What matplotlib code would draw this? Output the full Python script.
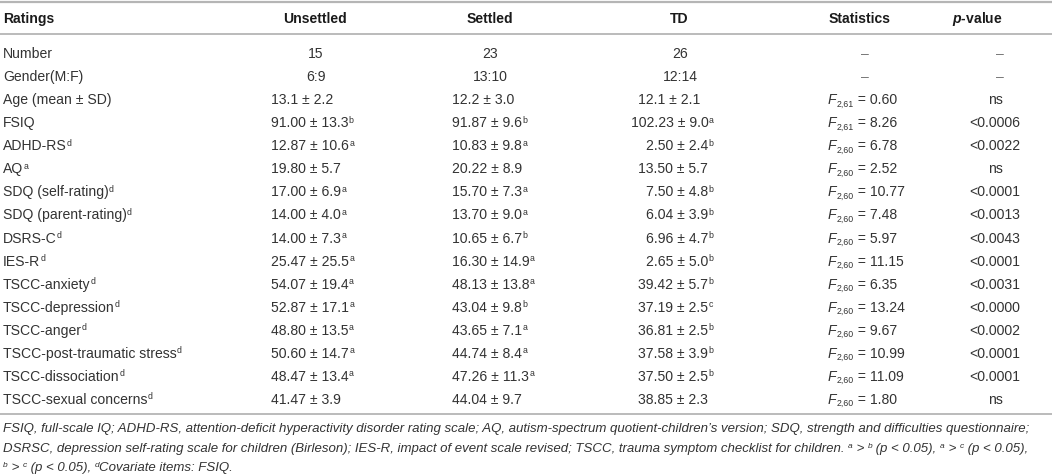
import matplotlib
matplotlib.use("Agg")
import matplotlib.pyplot as plt

plt.rcParams["font.family"] = ["Liberation Sans", "DejaVu Sans"]
plt.rcParams["mathtext.fontset"] = "custom"
plt.rcParams["mathtext.rm"] = "Liberation Sans"
plt.rcParams["mathtext.it"] = "Liberation Sans:italic"
plt.rcParams["mathtext.bf"] = "Liberation Sans:bold:italic"

# ---------------- data ----------------
headers = ["Ratings", "Unsettled", "Settled", "TD", "Statistics", "p-value"]
ratings = ["Number", "Gender(M:F)", "Age (mean ± SD)", "FSIQ", "ADHD-RS^d", "AQ^a",
           "SDQ (self-rating)^d", "SDQ (parent-rating)^d", "DSRS-C^d", "IES-R^d",
           "TSCC-anxiety^d", "TSCC-depression^d", "TSCC-anger^d",
           "TSCC-post-traumatic stress^d", "TSCC-dissociation^d", "TSCC-sexual concerns^d"]
unsettled = ["15", "6:9", "13.1 ± 2.2", "91.00 ± 13.3^b", "12.87 ± 10.6^a", "19.80 ± 5.7",
             "17.00 ± 6.9^a", "14.00 ± 4.0^a", "14.00 ± 7.3^a", "25.47 ± 25.5^a",
             "54.07 ± 19.4^a", "52.87 ± 17.1^a", "48.80 ± 13.5^a", "50.60 ± 14.7^a",
             "48.47 ± 13.4^a", "41.47 ± 3.9"]
settled = ["23", "13:10", "12.2 ± 3.0", "91.87 ± 9.6^b", "10.83 ± 9.8^a", "20.22 ± 8.9",
           "15.70 ± 7.3^a", "13.70 ± 9.0^a", "10.65 ± 6.7^b", "16.30 ± 14.9^a",
           "48.13 ± 13.8^a", "43.04 ± 9.8^b", "43.65 ± 7.1^a", "44.74 ± 8.4^a",
           "47.26 ± 11.3^a", "44.04 ± 9.7"]
td = ["26", "12:14", "12.1 ± 2.1", "102.23 ± 9.0^a", "2.50 ± 2.4^b", "13.50 ± 5.7",
      "7.50 ± 4.8^b", "6.04 ± 3.9^b", "6.96 ± 4.7^b", "2.65 ± 5.0^b",
      "39.42 ± 5.7^b", "37.19 ± 2.5^c", "36.81 ± 2.5^b", "37.58 ± 3.9^b",
      "37.50 ± 2.5^b", "38.85 ± 2.3"]
stat_df = ["", "", "2,61", "2,61", "2,60", "2,60", "2,60", "2,60", "2,60", "2,60",
           "2,60", "2,60", "2,60", "2,60", "2,60", "2,60"]
stat_f = ["–", "–", "0.60", "8.26", "6.78", "2.52", "10.77", "7.48", "5.97", "11.15",
          "6.35", "13.24", "9.67", "10.99", "11.09", "1.80"]
pvalues = ["–", "–", "ns", "<0.0006", "<0.0022", "ns", "<0.0001", "<0.0013", "<0.0043",
           "<0.0001", "<0.0031", "<0.0000", "<0.0002", "<0.0001", "<0.0001", "ns"]
footnotes = [
    "FSIQ, full-scale IQ; ADHD-RS, attention-deficit hyperactivity disorder rating scale; "
    "AQ, autism-spectrum quotient-children’s version; SDQ, strength and difficulties questionnaire;",
    "DSRSC, depression self-rating scale for children (Birleson); IES-R, impact of event scale revised; "
    "TSCC, trauma symptom checklist for children. ^a > ^b (p < 0.05), ^a > ^c (p < 0.05),",
    "^b > ^c (p < 0.05), ^dCovariate items: FSIQ.",
]

# ---------------- layout ----------------
W, H = 1052, 476
fig = plt.figure(figsize=(W / 100, H / 100), dpi=100)
ax = fig.add_axes([0, 0, 1, 1])
ax.set_xlim(0, W)
ax.set_ylim(H, 0)
ax.axis("off")

FS = 10.1
SUPFS = 6.3
FFS = 9.5
BODY = "#333333"
HEAD = "#1a1a1a"
DASH = "#777777"
LINE = "#b5b5b5"
DIGIT = 0.556 * FS * 100 / 72  # advance width of a digit in px

header_y = 18
row0 = 53
row_step = 23.07
cap = 5.0


def split_sup(s):
    if "^" in s:
        main, letter = s.split("^", 1)
        return main, letter
    return s, ""


def put(x, y, s, ha="left", color=BODY, fs=FS, **kw):
    """Text at baseline y; trailing ^x rendered as a small superscript."""
    main, letter = split_sup(s)
    t = ax.text(x, y, main, ha=ha, va="baseline", fontsize=fs, color=color, **kw)
    if letter:
        ax.annotate(letter, xy=(1, y - 4.6), xycoords=(t, "data"),
                    ha="left", va="baseline", fontsize=SUPFS, color=color)
    return t


# horizontal rules
ax.plot([0, W], [1.5, 1.5], color=LINE, lw=1.6, solid_capstyle="butt")
ax.plot([0, W], [34, 34], color=LINE, lw=1.3, solid_capstyle="butt")
ax.plot([0, W], [413.5, 413.5], color=LINE, lw=1.3, solid_capstyle="butt")

# headers
hx = [3, 315, 490, 679, 860, 977]
ha = ["left", "center", "center", "center", "center", "center"]
for j, h in enumerate(headers):
    txt = h
    if h == "p-value":
        txt = r"$\mathbf{p}$-value"
    ax.text(hx[j], header_y + cap, txt, ha=ha[j], va="baseline", fontsize=FS,
            fontweight="bold", color=HEAD)

col_center = [316, 490, 680]
col_dec = [287, 468, 654]


def draw_value(x_center, x_dec, y, s):
    if "." in s:
        nint = len(s.split(".", 1)[0])
        put(x_dec - nint * DIGIT, y, s, ha="left")
    else:
        put(x_center, y, s, ha="center")


for i in range(len(ratings)):
    yb = row0 + i * row_step + cap
    put(3, yb, ratings[i])
    for k, col in enumerate([unsettled, settled, td]):
        draw_value(col_center[k], col_dec[k], yb, col[i])
    if stat_df[i]:
        f = ax.text(828, yb, "F", ha="left", va="baseline", fontsize=FS, color=BODY,
                    style="italic")
        sb = ax.annotate(stat_df[i], xy=(1, yb + 2.2), xycoords=(f, "data"),
                         xytext=(0.3, 0), textcoords="offset points",
                         ha="left", va="baseline", fontsize=SUPFS, color=BODY)
        ax.annotate(" = " + stat_f[i], xy=(1, yb), xycoords=(sb, "data"),
                    ha="left", va="baseline", fontsize=FS, color=BODY)
    else:
        ax.text(865, yb, stat_f[i], ha="center", va="baseline", fontsize=FS, color=DASH)
    if pvalues[i] == "–":
        ax.text(1000, yb, pvalues[i], ha="center", va="baseline", fontsize=FS, color=DASH)
    else:
        ax.text(995, yb, pvalues[i], ha="center", va="baseline", fontsize=FS, color=BODY)


def foot_line(x, y, s):
    """Italic footnote line with inline small superscripts (^x)."""
    parts = s.split("^")
    prev = ax.text(x, y, parts[0], ha="left", va="baseline", fontsize=FFS,
                   style="italic", color=BODY)
    for p in parts[1:]:
        letter, rest = p[0], p[1:]
        sp = ax.annotate(letter, xy=(1, y - 4.3), xycoords=(prev, "data"),
                         ha="left", va="baseline", fontsize=SUPFS - 0.3,
                         style="italic", color=BODY)
        prev = ax.annotate(rest, xy=(1, y), xycoords=(sp, "data"),
                           ha="left", va="baseline", fontsize=FFS,
                           style="italic", color=BODY)


foot_y = [432, 452, 471]
for k, line in enumerate(footnotes):
    foot_line(3, foot_y[k], line)

fig.savefig("out.png", dpi=100)
